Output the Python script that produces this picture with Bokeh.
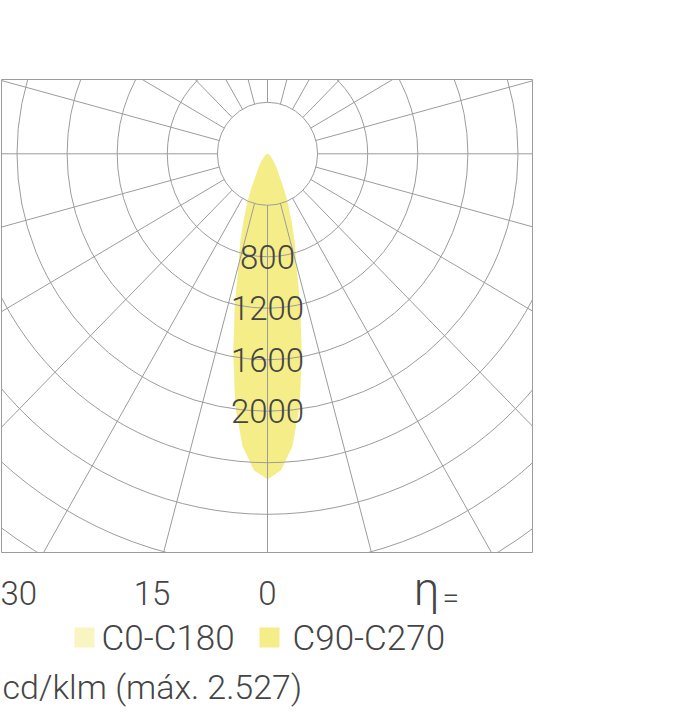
import numpy as np
from bokeh.plotting import figure
from bokeh.layouts import column
from bokeh.models import Range1d
from bokeh.embed import file_html
from bokeh.resources import INLINE
from bokeh.core.properties import value

# ---------------- data ----------------
angles_deg = [0, 2.5, 5, 7.5, 10, 12.5, 15, 17.5, 20, 22.5, 25, 27.5, 30, 35, 40, 45, 50, 55, 60, 70, 80, 90]
intensity_c0_c180 = [2527, 2460, 2280, 1970, 1570, 1205, 885, 724, 563, 433, 322, 228, 168, 118, 78, 48, 32, 23, 17, 10, 5, 0]
intensity_c90_c270 = [2527, 2460, 2280, 1970, 1570, 1205, 885, 724, 563, 433, 322, 228, 168, 118, 78, 48, 32, 23, 17, 10, 5, 0]
ring_values = [400, 800, 1200, 1600, 2000, 2400, 2800, 3200, 3600, 4000]
ring_labels = ["800", "1200", "1600", "2000"]
radial_angles = list(range(0, 360, 15))
angle_label_values = [30, 15, 0]
angle_labels = ["30", "15", "0"]
legend_names = ["C0-C180", "C90-C270"]
legend_colors = ["#f8f5c0", "#f5ee88"]
unit_text = "cd/klm (máx. 2.527)"
eta_text = "η"

# ---------------- style ----------------
GRID = "#9c9c9c"
TXT = "#454545"
FONT = value("'Roboto Light', 'Liberation Sans', sans-serif")
X_SCALE = 400 / 50.1   # data units per pixel, horizontal
Y_SCALE = 400 / 51.5   # data units per pixel, vertical

def px_x(px):
    return (px - 267) * X_SCALE

x_range = Range1d(-266 * X_SCALE, 265 * X_SCALE)

p1 = figure(width=533, height=553, x_range=x_range,
            y_range=Range1d(-398.7 * Y_SCALE, 74.3 * Y_SCALE),
            min_border_left=1, min_border_right=1, min_border_top=79, min_border_bottom=1,
            x_axis_location=None, y_axis_location=None,
            output_backend="svg", toolbar_location=None)
p1.xgrid.visible = False
p1.ygrid.visible = False
p1.outline_line_color = GRID
p1.outline_line_width = 1
p1.background_fill_color = "white"
p1.border_fill_color = "white"

def curve(intens):
    a = np.radians(np.array(angles_deg, dtype=float))
    r = np.array(intens, dtype=float)
    xs_r = r * np.sin(a)
    ys_r = -r * np.cos(a)
    xs = np.concatenate([-xs_r[::-1], xs_r[1:]])
    ys = np.concatenate([ys_r[::-1], ys_r[1:]])
    return list(xs), list(ys)

cx, cy = curve(intensity_c0_c180)
p1.patch(cx, cy, fill_color=legend_colors[0], line_color=None)
cx, cy = curve(intensity_c90_c270)
p1.patch(cx, cy, fill_color=legend_colors[1], line_color=None)

# radial lines
rl_x, rl_y = [], []
for a in radial_angles:
    t = np.radians(a)
    rl_x.append([ring_values[0] * np.sin(t), 6000 * np.sin(t)])
    rl_y.append([-ring_values[0] * np.cos(t), -6000 * np.cos(t)])
p1.multi_line(rl_x, rl_y, line_color=GRID, line_width=1)

# rings
p1.ellipse(x=[0] * len(ring_values), y=[0] * len(ring_values),
           width=[2 * v for v in ring_values], height=[2 * v for v in ring_values],
           fill_color=None, line_color=GRID, line_width=1)

# ring value labels
lab_vals = [float(s) for s in ring_labels]
p1.text(x=[0] * len(lab_vals), y=[-v for v in lab_vals], text=ring_labels,
        text_font=FONT, text_font_size="33px", text_color=TXT,
        text_align="center", text_baseline="middle")

# ---------------- bottom panel ----------------
p2 = figure(width=533, height=160, x_range=x_range, y_range=Range1d(160, 0),
            min_border_left=1, min_border_right=1, min_border_top=0, min_border_bottom=0,
            x_axis_location=None, y_axis_location=None,
            output_backend="svg", toolbar_location=None)
p2.xgrid.visible = False
p2.ygrid.visible = False
p2.outline_line_color = None

LABEL_DEPTH = 3440
lx = [-LABEL_DEPTH * np.tan(np.radians(a)) for a in angle_label_values]
p2.text(x=lx, y=[39] * len(lx), text=angle_labels, text_font=FONT,
        text_font_size="33px", text_color=TXT, text_align="center",
        text_baseline="middle")

p2.text(x=[px_x(426)], y=[35], text=[eta_text], text_font=FONT,
        text_font_size="46px", text_color=TXT, text_align="center",
        text_baseline="middle")
p2.text(x=[px_x(442)], y=[44], text=["="], text_font=FONT,
        text_font_size="30px", text_color=TXT, text_align="left",
        text_baseline="middle")

sq_x = [px_x(84), px_x(269)]
p2.rect(x=sq_x, y=[84, 84], width=20, height=20, width_units="screen",
        height_units="screen", fill_color=legend_colors, line_color=None)
p2.text(x=[px_x(101), px_x(292)], y=[85, 85], text=legend_names, text_font=FONT,
        text_font_size="35px", text_color=TXT, text_align="left",
        text_baseline="middle")

p2.text(x=[px_x(2)], y=[133], text=[unit_text], text_font=FONT,
        text_font_size="34px", text_color=TXT, text_align="left",
        text_baseline="middle")

layout = column(p1, p2, spacing=0)
open("out.html", "w").write(file_html(layout, INLINE))
